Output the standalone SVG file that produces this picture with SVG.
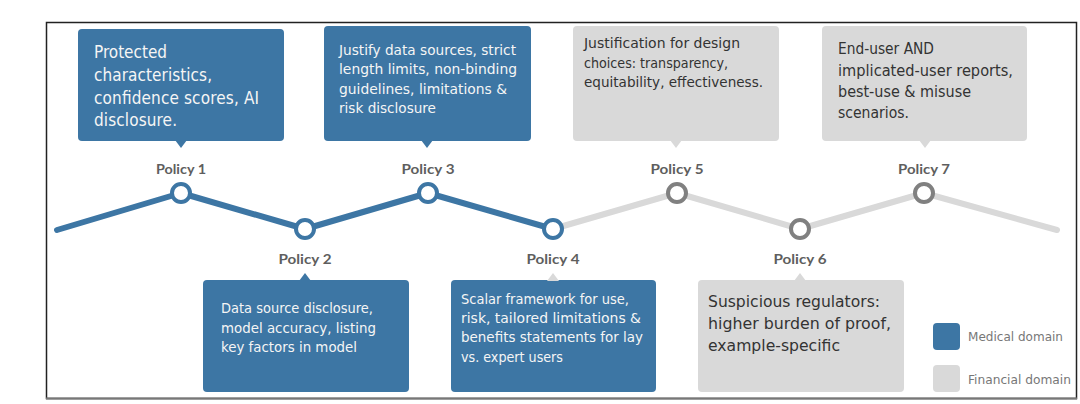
<svg xmlns="http://www.w3.org/2000/svg" width="1080" height="404" viewBox="0 0 1080 404">
<style>
.bx{font-family:"DejaVu Sans","Liberation Sans",sans-serif;font-stretch:condensed}
.bl{fill:#3D76A4}
.gr{fill:#D9D9D9}
.wt{fill:#F5F5F5}
.dk{fill:#333333}
.lbl{font-family:Lato,"Liberation Sans",sans-serif;font-weight:bold;font-size:14px;fill:#5E5E5E;text-anchor:middle}
.leg{font-family:"DejaVu Sans","Liberation Sans",sans-serif;font-stretch:condensed;font-size:12px;fill:#777777}
.nb{fill:#ffffff;stroke:#3D76A4;stroke-width:4}
.ng{fill:#ffffff;stroke:#808080;stroke-width:4}
</style>
<rect x="0" y="0" width="1080" height="404" fill="#ffffff"/>
<rect x="46.5" y="22.5" width="1030" height="376" fill="none" stroke="#222222" stroke-width="1.5"/>
<line x1="46" y1="398.5" x2="1077" y2="398.5" stroke="#777777" stroke-width="2"/>

<g id="connectors" fill="none" stroke-width="6" stroke-linecap="round" stroke-linejoin="round">
<polyline points="553,229 677,193 800,229 924,193 1057,230" stroke="#D9D9D9"/>
<polyline points="57,230 181,193 305,229 428,193 553,229" stroke="#3D76A4"/>
</g>

<g id="policy1">
<rect class="bl" x="78" y="29" width="206" height="112" rx="4"/>
<polygon class="bl" points="175,140 187,140 181,148"/>
<text class="bx wt" font-size="17" lengthAdjust="spacingAndGlyphs">
<tspan x="94" y="58" textLength="73">Protected</tspan>
<tspan x="94" y="81" textLength="118">characteristics,</tspan>
<tspan x="94" y="104" textLength="165">confidence scores, AI</tspan>
<tspan x="94" y="126" textLength="83">disclosure.</tspan>
</text>
<text class="lbl" x="181" y="173.5" textLength="50" lengthAdjust="spacingAndGlyphs">Policy 1</text>
<circle class="nb" cx="181" cy="193" r="9"/>
</g>

<g id="policy2">
<rect class="bl" x="203" y="280" width="206" height="112" rx="4"/>
<polygon class="bl" points="299,281 311,281 305,273"/>
<text class="bx wt" font-size="13.5">
<tspan x="221" y="313" textLength="152" lengthAdjust="spacingAndGlyphs">Data source disclosure,</tspan>
<tspan x="221" y="332.5" textLength="155" lengthAdjust="spacingAndGlyphs">model accuracy, listing</tspan>
<tspan x="221" y="352" textLength="136" lengthAdjust="spacingAndGlyphs">key factors in model</tspan>
</text>
<text class="lbl" x="305" y="263.5" textLength="53" lengthAdjust="spacingAndGlyphs">Policy 2</text>
<circle class="nb" cx="305" cy="229" r="9"/>
</g>

<g id="policy3">
<rect class="bl" x="324" y="26" width="207" height="115" rx="4"/>
<polygon class="bl" points="421,140 433,140 427,148"/>
<text class="bx wt" font-size="13.5">
<tspan x="339" y="55" textLength="177" lengthAdjust="spacingAndGlyphs">Justify data sources, strict</tspan>
<tspan x="339" y="74.3" textLength="178" lengthAdjust="spacingAndGlyphs">length limits, non-binding</tspan>
<tspan x="339" y="93.7" textLength="168" lengthAdjust="spacingAndGlyphs">guidelines, limitations &amp;</tspan>
<tspan x="339" y="113" textLength="97" lengthAdjust="spacingAndGlyphs">risk disclosure</tspan>
</text>
<text class="lbl" x="428" y="173.5" textLength="53" lengthAdjust="spacingAndGlyphs">Policy 3</text>
<circle class="nb" cx="428" cy="193" r="9"/>
</g>

<g id="policy4">
<rect class="bl" x="451" y="280" width="205" height="112" rx="4"/>
<polygon class="gr" points="547,281 559,281 553,273"/>
<text class="bx wt" font-size="14">
<tspan x="461" y="304" textLength="168" lengthAdjust="spacingAndGlyphs">Scalar framework for use,</tspan>
<tspan x="461" y="323" textLength="180" lengthAdjust="spacingAndGlyphs">risk, tailored limitations &amp;</tspan>
<tspan x="461" y="342.3" textLength="182" lengthAdjust="spacingAndGlyphs">benefits statements for lay</tspan>
<tspan x="461" y="361.7" textLength="102" lengthAdjust="spacingAndGlyphs">vs. expert users</tspan>
</text>
<text class="lbl" x="553" y="263.5" textLength="53" lengthAdjust="spacingAndGlyphs">Policy 4</text>
<circle class="nb" cx="553" cy="229" r="9"/>
</g>

<g id="policy5">
<rect class="gr" x="573" y="26" width="206" height="115" rx="4"/>
<polygon class="gr" points="670,140 682,140 676,148"/>
<text class="bx dk" font-size="13.5">
<tspan x="584" y="48.3" textLength="156" lengthAdjust="spacingAndGlyphs">Justification for design</tspan>
<tspan x="584" y="67.7" textLength="144" lengthAdjust="spacingAndGlyphs">choices: transparency,</tspan>
<tspan x="584" y="86.7" textLength="179" lengthAdjust="spacingAndGlyphs">equitability, effectiveness.</tspan>
</text>
<text class="lbl" x="677" y="173.5" textLength="53" lengthAdjust="spacingAndGlyphs">Policy 5</text>
<circle class="ng" cx="677" cy="193" r="9"/>
</g>

<g id="policy6">
<rect class="gr" x="698" y="280" width="206" height="112" rx="4"/>
<polygon class="gr" points="794,281 806,281 800,273"/>
<text class="bx dk" font-size="16.5">
<tspan x="708" y="306.7" textLength="172" lengthAdjust="spacingAndGlyphs">Suspicious regulators:</tspan>
<tspan x="708" y="328.7" textLength="183" lengthAdjust="spacingAndGlyphs">higher burden of proof,</tspan>
<tspan x="708" y="350.7" textLength="132" lengthAdjust="spacingAndGlyphs">example-specific</tspan>
</text>
<text class="lbl" x="800" y="263.5" textLength="53" lengthAdjust="spacingAndGlyphs">Policy 6</text>
<circle class="ng" cx="800" cy="229" r="9"/>
</g>

<g id="policy7">
<rect class="gr" x="822" y="26" width="205" height="115" rx="4"/>
<polygon class="gr" points="919,140 931,140 925,148"/>
<text class="bx dk" font-size="15">
<tspan x="838" y="54" textLength="96" lengthAdjust="spacingAndGlyphs">End-user AND</tspan>
<tspan x="838" y="75.5" textLength="175" lengthAdjust="spacingAndGlyphs">implicated-user reports,</tspan>
<tspan x="838" y="96.5" textLength="133" lengthAdjust="spacingAndGlyphs">best-use &amp; misuse</tspan>
<tspan x="838" y="117.5" textLength="71" lengthAdjust="spacingAndGlyphs">scenarios.</tspan>
</text>
<text class="lbl" x="924" y="173.5" textLength="52" lengthAdjust="spacingAndGlyphs">Policy 7</text>
<circle class="ng" cx="924" cy="193" r="9"/>
</g>

<g id="legend">
<rect class="bl" x="933" y="323" width="27" height="27" rx="4"/>
<rect class="gr" x="933" y="365" width="27" height="27" rx="4"/>
<text class="leg" x="968" y="341" textLength="95" lengthAdjust="spacingAndGlyphs">Medical domain</text>
<text class="leg" x="968" y="384" textLength="103" lengthAdjust="spacingAndGlyphs">Financial domain</text>
</g>
</svg>
